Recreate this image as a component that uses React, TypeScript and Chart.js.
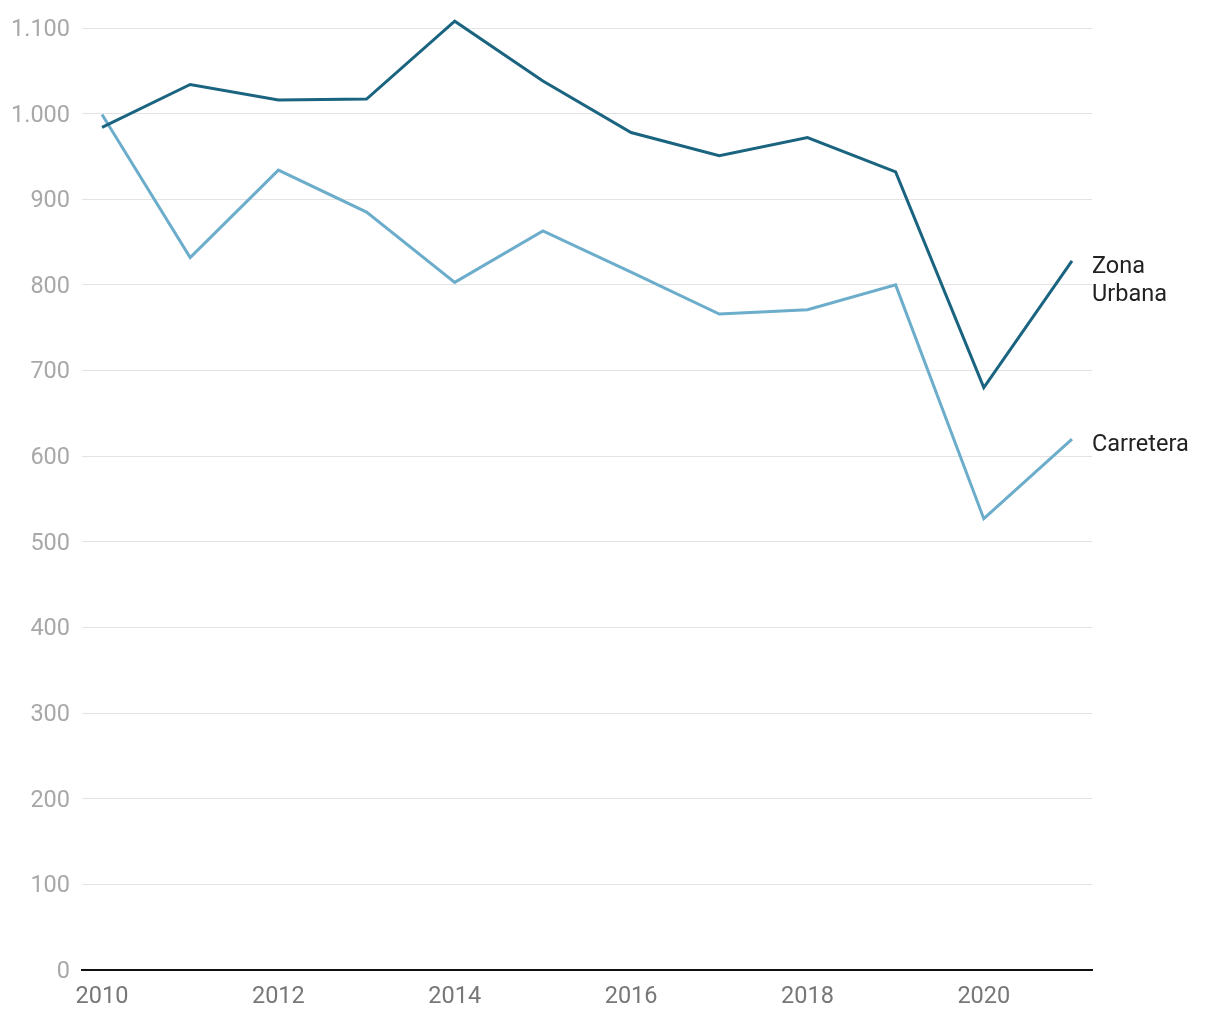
import React, { useEffect, useRef } from "react";
import { Chart, registerables } from "chart.js";

Chart.register(...registerables);

const years = [2010, 2011, 2012, 2013, 2014, 2015, 2016, 2017, 2018, 2019, 2020, 2021];
const zonaUrbana = [984, 1034, 1016, 1017, 1108, 1038, 978, 951, 972, 932, 680, 828];
const carretera = [999, 832, 934, 885, 803, 863, 815, 766, 771, 800, 527, 620];
const seriesNames = [["Zona", "Urbana"], ["Carretera"]];
const xTicks = [2010, 2012, 2014, 2016, 2018, 2020];
const yTicks = [0, 100, 200, 300, 400, 500, 600, 700, 800, 900, 1000, 1100];

const fmt = (v: number) => String(v).replace(/\B(?=(\d{3})+(?!\d))/g, ".");

const endLabels = {
  id: "endLabels",
  afterDatasetsDraw(chart: any) {
    const ctx = chart.ctx;
    ctx.save();
    ctx.font = "23.5px Roboto";
    ctx.fillStyle = "#222222";
    ctx.textAlign = "left";
    ctx.textBaseline = "middle";
    chart.data.datasets.forEach((ds: any, i: number) => {
      const meta = chart.getDatasetMeta(i);
      const pt = meta.data[meta.data.length - 1];
      const lines = seriesNames[i];
      lines.forEach((l: string, j: number) => {
        ctx.fillText(l, chart.chartArea.right, pt.y + 6 + j * 28);
      });
    });
    ctx.restore();
  },
};

export default function App() {
  const ref = useRef<HTMLCanvasElement>(null);
  useEffect(() => {
    const chart = new Chart(ref.current!, {
      type: "line",
      data: {
        datasets: [
          {
            label: "Zona Urbana",
            data: years.map((y, i) => ({ x: y, y: zonaUrbana[i] })),
            borderColor: "#1a6480",
            borderWidth: 3,
            pointRadius: 0,
            tension: 0,
            clip: false as any,
          },
          {
            label: "Carretera",
            data: years.map((y, i) => ({ x: y, y: carretera[i] })),
            borderColor: "#6badcb",
            borderWidth: 3,
            pointRadius: 0,
            tension: 0,
            clip: false as any,
          },
        ],
      },
      options: {
        animation: false,
        responsive: false,
        maintainAspectRatio: false,
        layout: { padding: { top: 28, right: 128, left: 0, bottom: 0 } },
        plugins: { legend: { display: false }, tooltip: { enabled: false } },
        scales: {
          x: {
            type: "linear",
            min: 2009.773,
            max: 2021.227,
            afterBuildTicks: (s: any) => {
              s.ticks = xTicks.map((v) => ({ value: v }));
            },
            afterFit: (s: any) => {
              s.height = 50;
            },
            grid: { display: false, drawTicks: false },
            border: { display: true, color: "#111111", width: 2 },
            ticks: {
              font: { family: "Roboto", size: 23.5 },
              color: "#777777",
              padding: 13,
              maxRotation: 0,
              autoSkip: false,
              callback: (v: any) => String(v),
            },
          },
          y: {
            type: "linear",
            min: 0,
            max: 1100,
            afterBuildTicks: (s: any) => {
              s.ticks = yTicks.map((v) => ({ value: v }));
            },
            afterFit: (s: any) => {
              s.width = 82;
            },
            grid: { color: "#e3e3e3", lineWidth: 1, drawTicks: false },
            border: { display: false },
            ticks: {
              font: { family: "Roboto", size: 23.5 },
              color: "#a8a8a8",
              padding: 12,
              labelOffset: 2,
              callback: (v: any) => fmt(Number(v)),
            },
          },
        },
      },
      plugins: [endLabels],
    });
    return () => chart.destroy();
  }, []);
  return (
    <div style={{ position: "absolute", left: 0, top: 0, width: 1220, height: 1020 }}>
      <canvas ref={ref} width={1220} height={1020} style={{ width: 1220, height: 1020 }} />
    </div>
  );
}
